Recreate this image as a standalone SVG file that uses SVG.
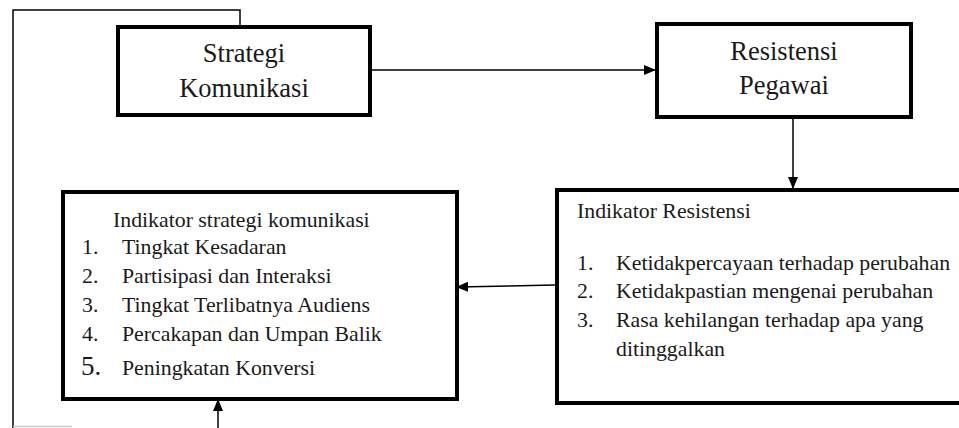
<svg xmlns="http://www.w3.org/2000/svg" width="959" height="428" viewBox="0 0 959 428">
<defs>
<style>
.box{fill:#fff;stroke:#000;stroke-width:4}
.con{fill:none;stroke:#000;stroke-width:1.5}
</style>
<marker id="ah" markerUnits="userSpaceOnUse" markerWidth="12" markerHeight="10" refX="11" refY="5" orient="auto">
<path d="M0,0 L12,5 L0,10 Z" fill="#000"/>
</marker>
</defs>
<rect width="959" height="428" fill="#fff"/>
<g id="connectors">
<path class="con" d="M240,27 V10 H13 V428"/>
<path d="M13,426.5 H72" fill="none" stroke="#c8c8c8" stroke-width="1.5"/>
<path class="con" d="M372,70 H655" marker-end="url(#ah)"/>
<path class="con" d="M793,119 V188" marker-end="url(#ah)"/>
<path class="con" d="M555,285 L457,287" marker-end="url(#ah)"/>
<path class="con" d="M218,428 V400" marker-end="url(#ah)"/>
</g>
<g font-family="Liberation Serif, DejaVu Serif, serif" fill="#1a1a1a">
<g id="strategi" font-size="26.5">
<rect class="box" x="118" y="27" width="252" height="88"/>
<text x="244" y="62" text-anchor="middle">Strategi</text>
<text x="244" y="97" text-anchor="middle">Komunikasi</text>
</g>
<g id="resistensi" font-size="26.5">
<rect class="box" x="657" y="24" width="254" height="93"/>
<text x="784" y="60" text-anchor="middle">Resistensi</text>
<text x="784" y="94" text-anchor="middle">Pegawai</text>
</g>
<g id="indikator-strategi" font-size="21.8">
<rect class="box" x="63" y="192" width="394" height="207"/>
<text x="113" y="227">Indikator strategi komunikasi</text>
<text x="82" y="254">1.</text><text x="122" y="254">Tingkat Kesadaran</text>
<text x="82" y="283">2.</text><text x="122" y="283">Partisipasi dan Interaksi</text>
<text x="82" y="312">3.</text><text x="122" y="312">Tingkat Terlibatnya Audiens</text>
<text x="82" y="341">4.</text><text x="122" y="341">Percakapan dan Umpan Balik</text>
<text font-size="27" x="81" y="375">5.</text><text x="122" y="375">Peningkatan Konversi</text>
</g>
<g id="indikator-resistensi" font-size="21.8">
<rect class="box" x="557" y="190" width="410" height="213"/>
<text x="577" y="218">Indikator Resistensi</text>
<text x="577" y="270">1.</text><text x="616" y="270">Ketidakpercayaan terhadap perubahan</text>
<text x="577" y="298">2.</text><text x="616" y="298">Ketidakpastian mengenai perubahan</text>
<text x="577" y="327">3.</text><text x="616" y="327">Rasa kehilangan terhadap apa yang</text>
<text x="616" y="356">ditinggalkan</text>
</g>
</g>
</svg>
